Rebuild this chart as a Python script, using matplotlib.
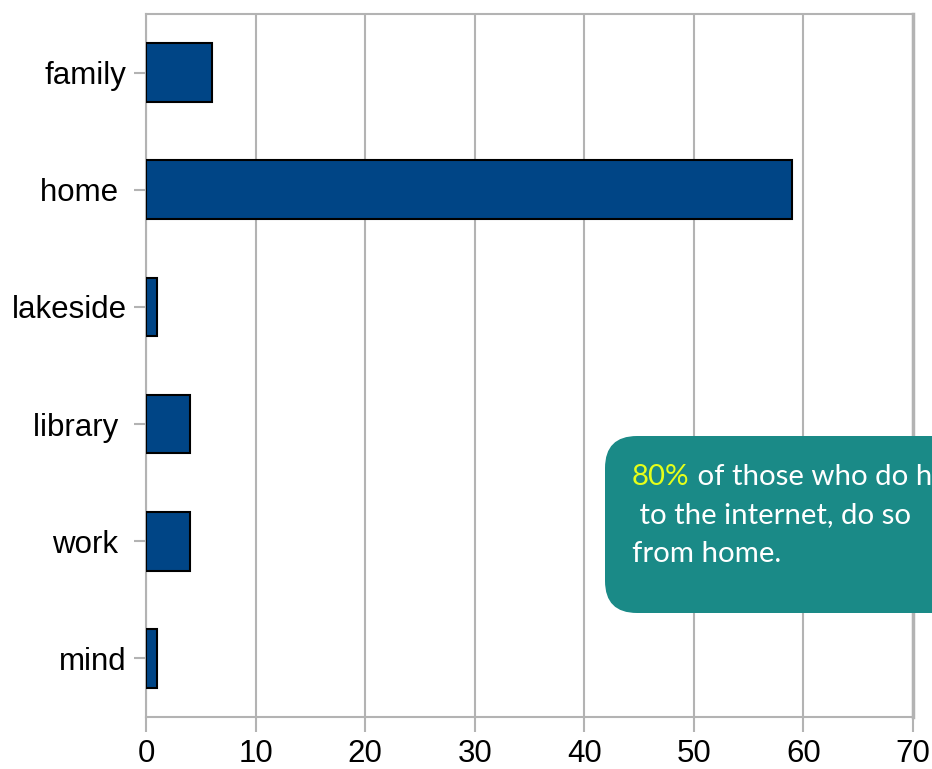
import matplotlib
matplotlib.use("Agg")
import matplotlib.pyplot as plt
from matplotlib.patches import FancyBboxPatch
from matplotlib.text import Annotation

# where people access the internet from
places = ["family", "home ", "lakeside", "library ", "work ", "mind"]
counts = [6, 59, 1, 4, 4, 1]
xticks = [0, 10, 20, 30, 40, 50, 60, 70]

fig = plt.figure(figsize=(9.32, 7.69), dpi=100)
ax = fig.add_axes([146 / 932, 52 / 769, 767 / 932, 703 / 769])

ypos = list(range(len(places)))
ax.barh(ypos, counts, height=0.5, color="#004586", edgecolor="black", linewidth=1.5, zorder=3)

ax.set_xlim(0, 70)
ax.set_ylim(len(places) - 0.5, -0.5)
ax.set_xticks(xticks)
ax.set_yticks(ypos)
ax.set_yticklabels(places)
ax.grid(axis="x", color="#b3b3b3", linewidth=1.5, zorder=0)
for s in ax.spines.values():
    s.set_color("#b3b3b3")
    s.set_linewidth(1.5)
ax.spines["right"].set_linewidth(2.5)
ax.tick_params(axis="y", length=9, width=1.5, color="#b3b3b3", pad=5,
               labelsize=22.5, labelfontfamily="Liberation Sans")
ax.tick_params(axis="x", length=11, width=1.5, color="#b3b3b3", pad=5,
               labelsize=22.5, labelfontfamily="Liberation Sans")

# callout box
box = FancyBboxPatch((6.05, 1.56), 4.0, 1.77, boxstyle="round,pad=0,rounding_size=0.32",
                     transform=fig.dpi_scale_trans, facecolor="#1a8a87", edgecolor="none",
                     zorder=5)
fig.patches.append(box)

tfont = dict(family="Lato", fontsize=21.2)
t1 = fig.text(6.32, 7.69 - 4.85, "80%", color="#e5ff1a", transform=fig.dpi_scale_trans,
              va="baseline", zorder=6, **tfont)
rest = Annotation(" of those who do have access", xy=(1, 0), xycoords=t1, va="bottom",
                  color="white", annotation_clip=False, zorder=6, **tfont)
fig.add_artist(rest)
fig.text(6.32, 7.69 - 5.23, " to the internet, do so", color="white",
         transform=fig.dpi_scale_trans, va="baseline", zorder=6, **tfont)
fig.text(6.32, 7.69 - 5.62, "from home.", color="white",
         transform=fig.dpi_scale_trans, va="baseline", zorder=6, **tfont)

fig.savefig("out.png", dpi=100)
